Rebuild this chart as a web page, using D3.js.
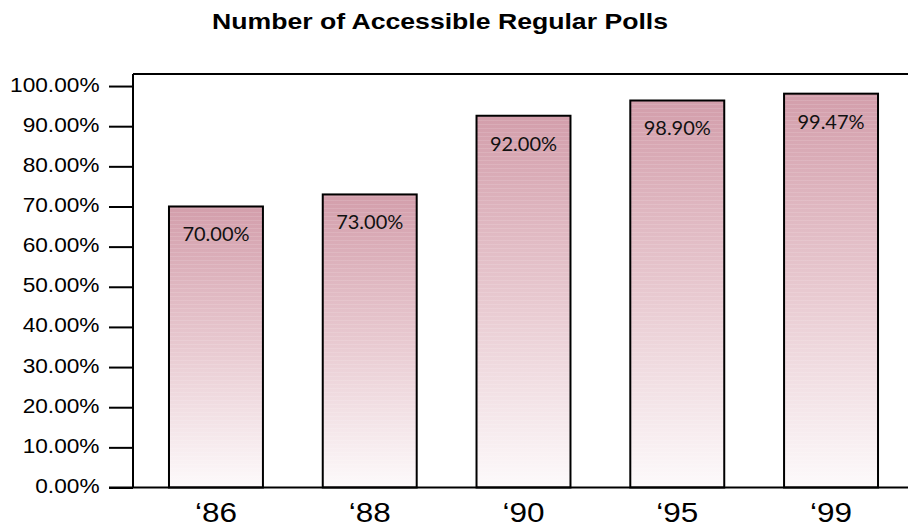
<!DOCTYPE html>
<meta charset="utf-8">
<style>
body { margin: 0; background: #fff; }
.title { font: bold 22px "Liberation Sans", Arial, sans-serif; }
.yaxis text { font: 21px "Liberation Sans", Arial, sans-serif; fill: #000; }
.xlab { font: 27px "Liberation Sans", Arial, sans-serif; }
.vlab { font: 20px Lato, "Open Sans", sans-serif; fill: #111; }
</style>
<body>
<script src="https://cdnjs.cloudflare.com/ajax/libs/d3/7.8.5/d3.min.js"></script>
<script>

// chart data
var years = ["\u201886", "\u201888", "\u201890", "\u201895", "\u201899"];
var barHeights = [70, 73, 92.6, 96.4, 98.1];   // where the bars are drawn
var valueLabels = ["70.00%", "73.00%", "92.00%", "98.90%", "99.47%"];
var yTicks = [0, 10, 20, 30, 40, 50, 60, 70, 80, 90, 100];

var width = 908, height = 527;
var plotLeft = 133, plotTop = 74, plotBottom = 487.5;

var svg = d3.select("body").append("svg")
    .attr("width", width)
    .attr("height", height);

var defs = svg.append("defs");
var grad = defs.append("linearGradient")
    .attr("id", "barfill")
    .attr("x1", 0).attr("y1", 0).attr("x2", 0).attr("y2", 1);
grad.append("stop").attr("offset", "0%").attr("stop-color", "#d39eab");
grad.append("stop").attr("offset", "50%").attr("stop-color", "#e8c9d0");
grad.append("stop").attr("offset", "100%").attr("stop-color", "#fdfafb");

// faint horizontal streaks
var pat = defs.append("pattern")
    .attr("id", "streaks")
    .attr("patternUnits", "userSpaceOnUse")
    .attr("width", 8).attr("height", 4);
pat.append("rect").attr("width", 8).attr("height", 1)
    .attr("fill", "#fff").attr("fill-opacity", 0.12);

var x = d3.scaleBand()
    .domain(years)
    .range([plotLeft, 914])
    .paddingInner(0.389)
    .paddingOuter(0.234);

var y = d3.scaleLinear()
    .domain([0, 103])
    .range([plotBottom, plotTop]);

// the source text is a bit wider than the fonts here, so stretch it
svg.append("text")
    .attr("class", "title")
    .attr("x", 440)
    .attr("y", 29)
    .attr("text-anchor", "middle")
    .attr("textLength", 456)
    .attr("lengthAdjust", "spacingAndGlyphs")
    .text("Number of Accessible Regular Polls");

// bars
var bars = svg.selectAll(".bar")
    .data(barHeights)
    .enter().append("g")
      .attr("class", "bar");

bars.append("rect")
    .attr("x", function(d, i) { return x(years[i]); })
    .attr("y", function(d) { return y(d); })
    .attr("width", x.bandwidth())
    .attr("height", function(d) { return y(0) - y(d); })
    .attr("fill", "url(#barfill)");

bars.append("rect")
    .attr("x", function(d, i) { return x(years[i]); })
    .attr("y", function(d) { return y(d); })
    .attr("width", x.bandwidth())
    .attr("height", function(d) { return y(0) - y(d); })
    .attr("fill", "url(#streaks)")
    .attr("stroke", "#000")
    .attr("stroke-width", 2);

bars.append("text")
    .attr("class", "vlab")
    .attr("x", function(d, i) { return x(years[i]) + x.bandwidth() / 2; })
    .attr("y", function(d) { return y(d) + 35; })
    .attr("text-anchor", "middle")
    .text(function(d, i) { return valueLabels[i]; });

// frame: top line and left axis
svg.append("line")
    .attr("x1", plotLeft).attr("x2", width)
    .attr("y1", plotTop).attr("y2", plotTop)
    .attr("stroke", "#000").attr("stroke-width", 2);

var yAxis = d3.axisLeft(y)
    .tickValues(yTicks)
    .tickSize(24)
    .tickPadding(7)
    .tickFormat(function(d) { return d.toFixed(2) + "%"; });

var gy = svg.append("g")
    .attr("class", "yaxis")
    .attr("transform", "translate(" + plotLeft + ",0)")
    .call(yAxis);
gy.select(".domain").remove();
gy.selectAll(".tick line").attr("stroke", "#000").attr("stroke-width", 2);
gy.selectAll(".tick text")
    .attr("dy", "0.24em")
    .attr("transform", "scale(1.08,1)");

svg.append("line")
    .attr("x1", plotLeft).attr("x2", plotLeft)
    .attr("y1", plotTop).attr("y2", plotBottom)
    .attr("stroke", "#000").attr("stroke-width", 2);

// baseline
svg.append("line")
    .attr("x1", plotLeft - 24).attr("x2", width)
    .attr("y1", plotBottom).attr("y2", plotBottom)
    .attr("stroke", "#000").attr("stroke-width", 2);

// category labels
svg.selectAll(".xlab")
    .data(years)
    .enter().append("text")
      .attr("class", "xlab")
      .attr("x", function(d) { return x(d) + x.bandwidth() / 2; })
      .attr("y", 522)
      .attr("text-anchor", "middle")
      .attr("textLength", 42)
      .attr("lengthAdjust", "spacingAndGlyphs")
      .text(function(d) { return d; });

</script>
</body>
